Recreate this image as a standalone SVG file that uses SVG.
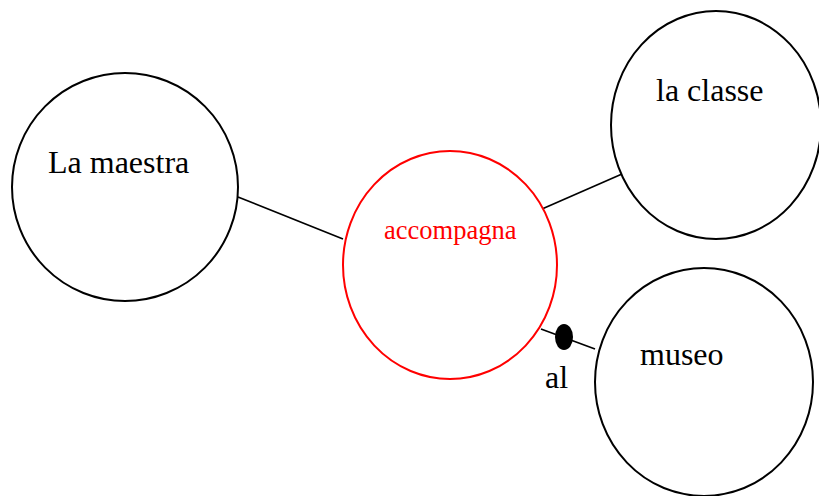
<svg xmlns="http://www.w3.org/2000/svg" width="819" height="496" viewBox="0 0 819 496">
<style>
.node{fill:#fff;stroke:#000;stroke-width:2}
.verb{fill:#fff;stroke:#ff0000;stroke-width:2}
.lbl{font-family:"Liberation Serif","Times New Roman",serif;font-size:32px;fill:#000}
.vlbl{font-family:"Liberation Serif","Times New Roman",serif;font-size:26.5px;fill:#ff0000}
.edge{stroke:#000;stroke-width:1.7;fill:none}
</style>
<rect width="819" height="496" fill="#fff"/>
<g id="connectors">
<line class="edge" x1="238" y1="197" x2="343" y2="239"/>
<line class="edge" x1="542" y1="209" x2="622" y2="174"/>
<line class="edge" x1="541" y1="329" x2="595" y2="349"/>
<ellipse cx="564" cy="337" rx="9" ry="13" fill="#000"/>
<text class="lbl" x="545" y="388">al</text>
</g>
<g id="node-maestra">
<ellipse class="node" cx="125" cy="187" rx="113" ry="114"/>
<text class="lbl" x="48" y="173">La maestra</text>
</g>
<g id="node-accompagna">
<ellipse class="verb" cx="450" cy="265" rx="107" ry="114"/>
<text class="vlbl" x="384" y="239">accompagna</text>
</g>
<g id="node-classe">
<ellipse class="node" cx="716" cy="125" rx="105" ry="114"/>
<text class="lbl" x="656" y="101">la classe</text>
</g>
<g id="node-museo">
<ellipse class="node" cx="704" cy="382" rx="109" ry="114"/>
<text class="lbl" x="640" y="365">museo</text>
</g>
</svg>
